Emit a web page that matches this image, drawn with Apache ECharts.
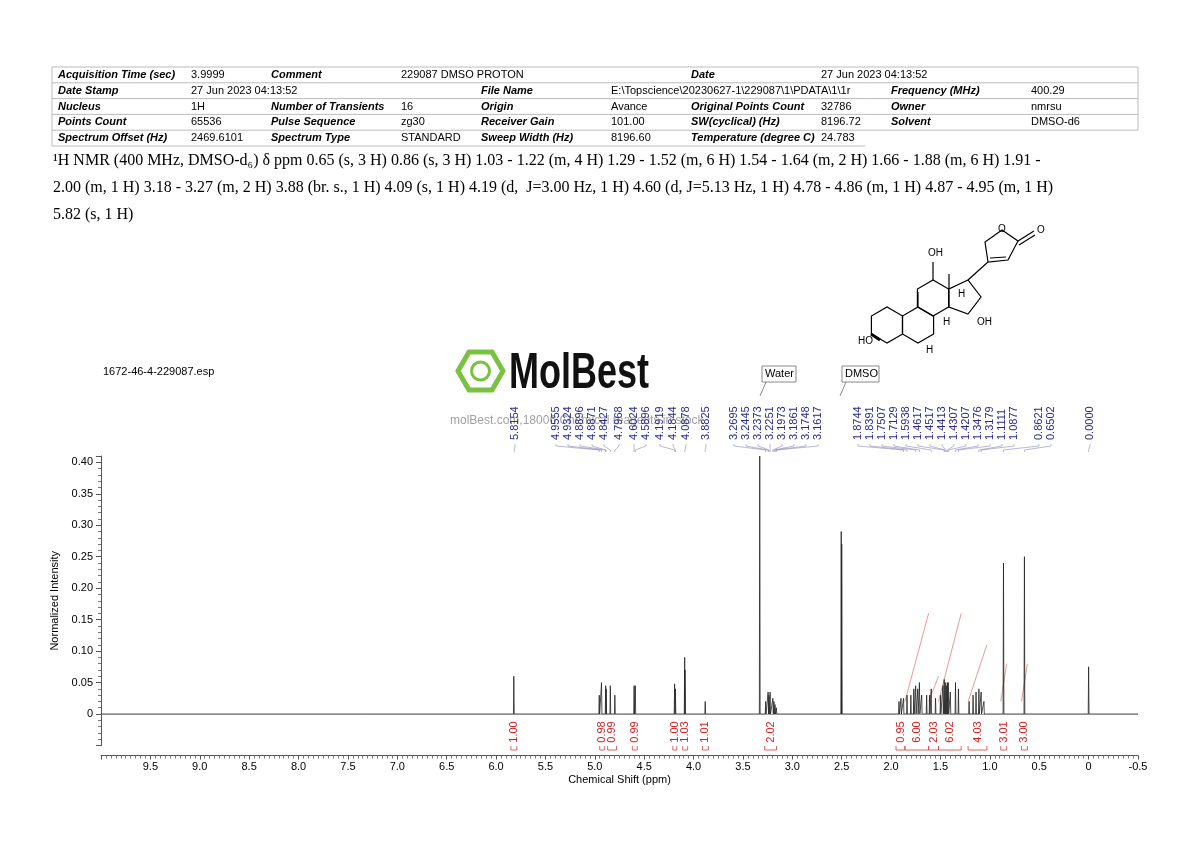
<!DOCTYPE html>
<html><head><meta charset="utf-8">
<script src="https://cdn.jsdelivr.net/npm/echarts@6/dist/echarts.min.js"></script>
<style>html,body{margin:0;padding:0;background:#fff}#c{width:1190px;height:841px}</style>
</head><body><div id="c"></div>
<script>
// peaks: [ppm, normalized intensity]
const peaks = [
  [5.82,0.06],
  [4.955,0.03],[4.932,0.05],[4.89,0.045],[4.885,0.04],[4.843,0.045],[4.797,0.03],
  [4.602,0.045],[4.59,0.045],
  [4.192,0.048],[4.184,0.04],
  [4.09,0.09],[4.087,0.07],
  [3.882,0.02],
  [3.33,0.41],
  [3.27,0.02],[3.245,0.035],[3.237,0.03],[3.225,0.035],[3.197,0.025],[3.186,0.02],[3.175,0.015],[3.162,0.01],
  [2.505,0.29],[2.50,0.27],
  [1.92,0.02],[1.90,0.025],[1.874,0.025],[1.839,0.03],[1.80,0.03],[1.77,0.04],[1.751,0.045],[1.73,0.04],[1.713,0.05],[1.69,0.03],
  [1.64,0.03],[1.61,0.03],[1.594,0.04],[1.55,0.025],[1.50,0.03],[1.475,0.045],[1.462,0.055],[1.452,0.05],[1.441,0.045],[1.431,0.05],
  [1.421,0.05],[1.40,0.035],[1.348,0.05],[1.318,0.04],[1.21,0.02],[1.17,0.03],[1.14,0.035],[1.111,0.04],[1.088,0.035],[1.06,0.02],
  [0.862,0.24],[0.650,0.25],[0.0,0.075]
];
// picked peak labels: [text, label x pixel]
const peakLabels = [
  ['5.8154',515],['4.9555',556],['4.9324',568],['4.8896',580],['4.8871',592],['4.8427',604],['4.7968',619],
  ['4.6024',634],['4.5896',646],['4.1919',660],['4.1844',673],['4.0878',686],['3.8825',706],
  ['3.2695',734],['3.2445',746],['3.2373',758],['3.2251',770],['3.1973',782],['3.1861',794],['3.1748',806],['3.1617',818],
  ['1.8744',858],['1.8391',870],['1.7507',882],['1.7129',894],['1.5938',906],['1.4617',918],['1.4517',930],['1.4413',942],
  ['1.4307',954],['1.4207',966],['1.3476',978],['1.3179',990],['1.1111',1002],['1.0877',1014],['0.8621',1039],['0.6502',1051],['0.0000',1090]
];
// integrals: [from ppm, to ppm, value, curve top]
const integrals = [
  [5.85,5.79,'1.00',0.0],[4.95,4.90,'0.98',0.0],[4.87,4.78,'0.99',0.0],[4.62,4.57,'0.99',0.0],
  [4.21,4.17,'1.00',0.0],[4.11,4.06,'1.03',0.0],[3.91,3.85,'1.01',0.0],[3.28,3.16,'2.02',0.0],
  [1.95,1.86,'0.95',0.0],[1.86,1.62,'6.00',0.16],[1.62,1.52,'2.03',0.06],[1.52,1.29,'6.02',0.16],
  [1.22,1.03,'4.03',0.11],[0.89,0.83,'3.01',0.08],[0.68,0.62,'3.00',0.08]
];

const spec = [[10.0,0]];
peaks.slice().sort((a,b)=>b[0]-a[0]).forEach(p=>{
  spec.push([p[0]+0.004,0],[p[0],p[1]],[p[0]-0.004,0]);
});
spec.push([-0.5,0]);

const integSeries = integrals.filter(g=>g[3]>0).map(g=>({
  type:'line', silent:true, symbol:'none', lineStyle:{color:'#e08080',width:0.8},
  data:[[g[0],0.02],[g[1],g[3]]], z:1
}));

const table = [
  [0,0,'Acquisition Time (sec)',1],[1,0,'3.9999'],[2,0,'Comment',1],[3,0,'229087 DMSO PROTON'],[6,0,'Date',1],[7,0,'27 Jun 2023 04:13:52'],
  [0,1,'Date Stamp',1],[1,1,'27 Jun 2023 04:13:52'],[4,1,'File Name',1],[5,1,'E:\\Topscience\\20230627-1\\229087\\1\\PDATA\\1\\1r'],[8,1,'Frequency (MHz)',1],[9,1,'400.29'],
  [0,2,'Nucleus',1],[1,2,'1H'],[2,2,'Number of Transients',1],[3,2,'16'],[4,2,'Origin',1],[5,2,'Avance'],[6,2,'Original Points Count',1],[7,2,'32786'],[8,2,'Owner',1],[9,2,'nmrsu'],
  [0,3,'Points Count',1],[1,3,'65536'],[2,3,'Pulse Sequence',1],[3,3,'zg30'],[4,3,'Receiver Gain',1],[5,3,'101.00'],[6,3,'SW(cyclical) (Hz)',1],[7,3,'8196.72'],[8,3,'Solvent',1],[9,3,'DMSO-d6'],
  [0,4,'Spectrum Offset (Hz)',1],[1,4,'2469.6101'],[2,4,'Spectrum Type',1],[3,4,'STANDARD'],[4,4,'Sweep Width (Hz)',1],[5,4,'8196.60'],[6,4,'Temperature (degree C)',1],[7,4,'24.783']
];
const colX = [52,185,265,395,475,605,685,815,885,1025,1138];

const chart = echarts.init(document.getElementById('c'));
const gfx = [];
// table
const tTop = 67, rh = 15.8;
for (let r=0;r<=5;r++) gfx.push({type:'line',shape:{x1:52,y1:tTop+r*rh,x2:r===5?865:1138,y2:tTop+r*rh},style:{stroke:'#bbb',lineWidth:1}});
gfx.push({type:'line',shape:{x1:1138,y1:tTop,x2:1138,y2:tTop+4*rh},style:{stroke:'#bbb'}});
gfx.push({type:'line',shape:{x1:52,y1:tTop,x2:52,y2:tTop+5*rh},style:{stroke:'#bbb'}});
table.forEach(t=>{
  gfx.push({type:'text',x:colX[t[0]]+6,y:tTop+t[1]*rh+8,style:{text:t[2],fill:'#000',font:(t[3]?'italic bold ':'')+'11px Liberation Sans',verticalAlign:'middle'}});
});
// description
const desc = ['¹H NMR (400 MHz, DMSO-d₆) δ ppm 0.65 (s, 3 H) 0.86 (s, 3 H) 1.03 - 1.22 (m, 4 H) 1.29 - 1.52 (m, 6 H) 1.54 - 1.64 (m, 2 H) 1.66 - 1.88 (m, 6 H) 1.91 -',
  '2.00 (m, 1 H) 3.18 - 3.27 (m, 2 H) 3.88 (br. s., 1 H) 4.09 (s, 1 H) 4.19 (d,  J=3.00 Hz, 1 H) 4.60 (d, J=5.13 Hz, 1 H) 4.78 - 4.86 (m, 1 H) 4.87 - 4.95 (m, 1 H)',
  '5.82 (s, 1 H)'];
desc.forEach((s,i)=>gfx.push({type:'text',x:53,y:161+i*27,style:{text:s,fill:'#000',font:'16px Liberation Serif',verticalAlign:'middle'}}));
// logo
gfx.push({type:'polygon',shape:{points:[[458,371],[469,352],[492,352],[503,371],[492,390],[469,390]]},style:{fill:'none',stroke:'#7ac142',lineWidth:5}});
gfx.push({type:'circle',shape:{cx:480.5,cy:371,r:9},style:{fill:'none',stroke:'#7ac142',lineWidth:3}});
gfx.push({type:'text',x:509,y:374,scaleX:0.72,style:{text:'MolBest',fill:'#111',font:'bold 50px Liberation Sans',verticalAlign:'middle'}});
gfx.push({type:'text',x:450,y:421,style:{text:'molBest.com,18006 Chemical reagents in stock',fill:'rgba(120,120,120,0.7)',font:'12px Liberation Sans',verticalAlign:'middle'},z:0});
gfx.push({type:'text',x:103,y:372,style:{text:'1672-46-4-229087.esp',fill:'#000',font:'11px Liberation Sans',verticalAlign:'middle'}});
[['Water',762,778],['DMSO',842,861]].forEach(w=>{
  gfx.push({type:'rect',shape:{x:w[1],y:366,width:w[2]-w[1]+18,height:16},style:{fill:'#fff',stroke:'#888'}});
  gfx.push({type:'text',x:w[1]+3,y:374,style:{text:w[0],fill:'#000',font:'11px Liberation Sans',verticalAlign:'middle'}});
  gfx.push({type:'line',shape:{x1:w[1]+4,y1:382,x2:w[1]-2,y2:396},style:{stroke:'#888'}});
});
// structure (rough)
function hexPts(cx,cy,s){const p=[];for(let i=0;i<6;i++){const a=Math.PI/6+i*Math.PI/3;p.push([cx+s*Math.cos(a),cy+s*Math.sin(a)]);}return p;}
[[887,325],[918,325],[933,298]].forEach(c=>
  gfx.push({type:'polygon',shape:{points:hexPts(c[0],c[1],18)},style:{fill:'none',stroke:'#000',lineWidth:1.2}}));
const S = {fill:'none',stroke:'#000',lineWidth:1.2};
gfx.push({type:'polygon',shape:{points:[[949,289],[949,307],[968,314],[981,297],[968,280]]},style:S});
gfx.push({type:'line',shape:{x1:968,y1:280,x2:988,y2:262},style:S});
gfx.push({type:'polygon',shape:{points:[[988,262],[985,242],[1002,230],[1018,241],[1008,260]]},style:S});
gfx.push({type:'line',shape:{x1:990,y1:258,x2:1006,y2:257},style:S});
gfx.push({type:'line',shape:{x1:1018,y1:241,x2:1034,y2:231},style:S});
gfx.push({type:'line',shape:{x1:1019,y1:245,x2:1035,y2:235},style:S});
gfx.push({type:'line',shape:{x1:949,y1:289,x2:949,y2:274},style:S});
gfx.push({type:'line',shape:{x1:933,y1:280,x2:933,y2:262},style:S});
gfx.push({type:'line',shape:{x1:918,y1:307,x2:918,y2:292},style:S});
gfx.push({type:'line',shape:{x1:871,y1:334,x2:880,y2:340},style:{stroke:'#000',lineWidth:3}});
[['O',998,229],['O',1037,230],['OH',928,253],['OH',977,322],['HO',858,341],['H',926,350],['H',943,322],['H',958,294]].forEach(l=>
  gfx.push({type:'text',x:l[1],y:l[2],style:{text:l[0],fill:'#000',font:'10px Liberation Sans',verticalAlign:'middle'}}));

chart.setOption({
  animation:false,
  grid:{left:101,right:52,top:456,bottom:95.5},
  xAxis:{type:'value',inverse:true,min:-0.5,max:10,interval:0.5,offset:10,
    name:'Chemical Shift (ppm)',nameLocation:'middle',nameGap:19,nameTextStyle:{fontSize:11,color:'#000'},
    axisLine:{onZero:false,lineStyle:{color:'#555'}},axisTick:{lineStyle:{color:'#555'},length:4},
    minorTick:{show:true,splitNumber:10,length:3,lineStyle:{color:'#777'}},
    axisLabel:{fontSize:11,color:'#000',margin:6,formatter:v=>v>=10?'':(v===0?'0':v.toFixed(1))},splitLine:{show:false}},
  yAxis:{type:'value',position:'left',min:-0.05,max:0.41,interval:0.05,
    name:'Normalized Intensity',nameLocation:'middle',nameGap:32,nameTextStyle:{fontSize:11,color:'#000'},
    axisLine:{show:true,onZero:false,lineStyle:{color:'#555'}},axisTick:{show:true,lineStyle:{color:'#555'}},
    minorTick:{show:true,splitNumber:5,length:3,lineStyle:{color:'#777'}},
    axisLabel:{fontSize:11,color:'#000',showMaxLabel:false,formatter:v=>(v<-0.001)?'':(Math.abs(v)<1e-6?'0':v.toFixed(2))},splitLine:{show:false}},
  series:[{type:'line',data:spec,symbol:'none',lineStyle:{color:'#222',width:0.8},z:3,
    markLine:{silent:true,symbol:'none',label:{show:false},lineStyle:{color:'#888',width:0.8,type:'solid'},data:[{yAxis:0}]}}].concat(integSeries),
  graphic:gfx
});

// peak labels and integral brackets placed through the axis scale
const g2 = [];
peakLabels.forEach(l=>{
  const px = chart.convertToPixel({gridIndex:0},[parseFloat(l[0]),0])[0];
  g2.push({type:'text',x:l[1],y:440,rotation:Math.PI/2,style:{text:l[0],fill:'#2a2a8a',font:'11px Liberation Sans',verticalAlign:'middle',align:'left'}});
  g2.push({type:'polyline',shape:{points:[[l[1],444],[l[1],446],[px,450],[px,452]]},style:{stroke:'#8888bb',lineWidth:0.6,fill:'none'}});
});
integrals.forEach(g=>{
  const a = chart.convertToPixel({gridIndex:0},[g[0],0])[0];
  const b = chart.convertToPixel({gridIndex:0},[g[1],0])[0];
  const m = (a+b)/2;
  g2.push({type:'polyline',shape:{points:[[a,746],[a,750],[b,750],[b,746]]},style:{stroke:'#d04040',lineWidth:0.8,fill:'none'}});
  g2.push({type:'text',x:m,y:732,rotation:Math.PI/2,style:{text:g[2],fill:'#d02020',font:'11px Liberation Sans',verticalAlign:'middle',align:'center'}});
});
chart.setOption({graphic:gfx.concat(g2)});
</script></body></html>
